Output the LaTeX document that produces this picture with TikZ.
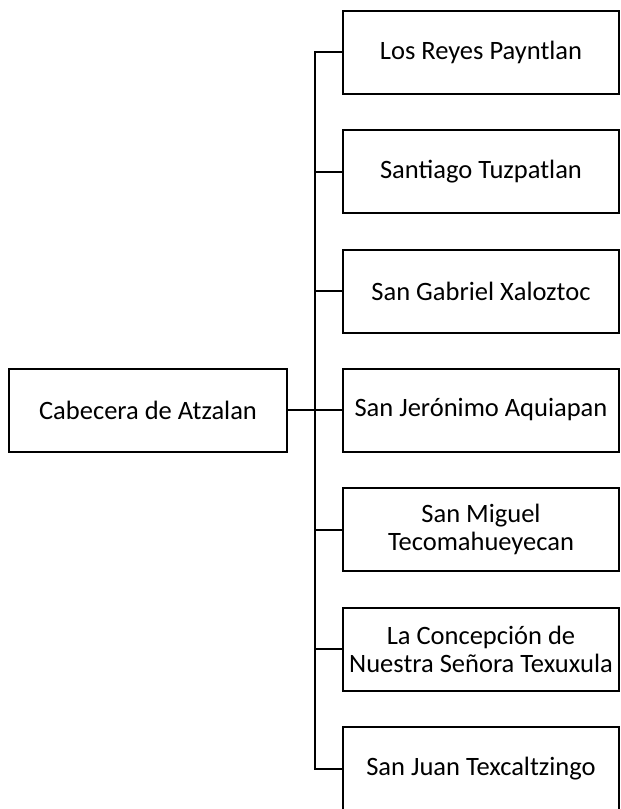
\documentclass[tikz,border=0pt]{standalone}
\usepackage{fontspec}
\setmainfont{Carlito}
\begin{document}
\begin{tikzpicture}[x=1pt,y=-1pt,
  box/.style={draw=black,line width=2pt,minimum width=276pt,minimum height=83pt,
    align=center,inner sep=1pt,font=\fontsize{26.5}{28}\selectfont},
  conn/.style={draw=black,line width=2pt}]
\useasboundingbox (0,0) rectangle (621,809);
\node[box,minimum width=278pt] (L) at (148,410) {Cabecera de Atzalan};
\node[box] (b1) at (481,52) {Los Reyes Payntlan};
\node[box] (b2) at (481,171.5) {Santiago Tuzpatlan};
\node[box] (b3) at (481,291) {San Gabriel Xaloztoc};
\node[box] (b4) at (481,410) {San Jerónimo Aquiapan};
\node[box] (b5) at (481,529.5) {San Miguel\\Tecomahueyecan};
\node[box] (b6) at (481,649) {La Concepción de\\Nuestra Señora Texuxula};
\node[box] (b7) at (481,768.5) {San Juan Texcaltzingo};
\coordinate (s) at (315,410);
\draw[conn] (b1.west) -- (b1.west -| s) -- (b7.west -| s) -- (b7.west);
\foreach \i in {2,...,6} \draw[conn] (b\i.west) -- (b\i.west -| s);
\draw[conn] (L.east) -- (s);
\end{tikzpicture}
\end{document}
